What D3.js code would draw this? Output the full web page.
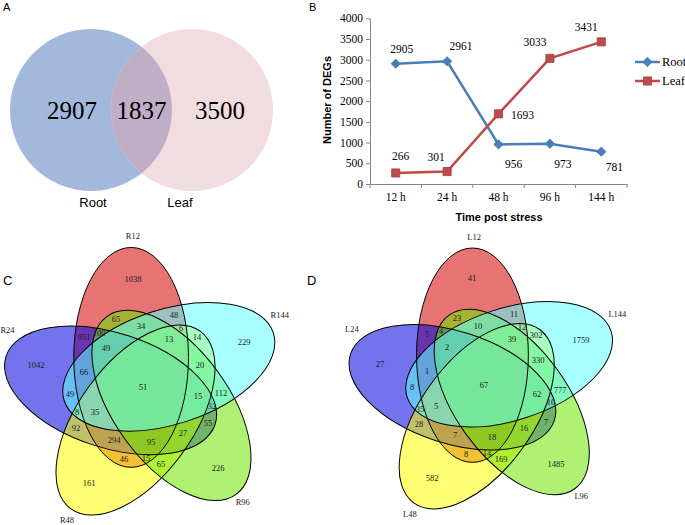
<!DOCTYPE html>
<html lang="en">
<head>
<meta charset="UTF-8">
<script src="https://cdn.jsdelivr.net/npm/d3@7"></script>
<style>
  body { margin: 0; background: #fff; }
  svg { display: block; }
</style>
</head>
<body>
<svg id="chart" width="685" height="525"></svg>
<script>
const serif = "'Liberation Serif', 'Times New Roman', serif";
const sans = "'Liberation Sans', Arial, sans-serif";

// ---- data ----
const tissues = ["Root", "Leaf"];
const tissueCounts = [2907, 1837, 3500]; // root only, shared, leaf only

const timePoints = ["12 h", "24 h", "48 h", "96 h", "144 h"];
const rootDEGs = [2905, 2961, 956, 973, 781];
const leafDEGs = [266, 301, 1693, 3033, 3431];
const degTicks = [0, 500, 1000, 1500, 2000, 2500, 3000, 3500, 4000];

const rootSets = ["R12", "R24", "R48", "R96", "R144"];
const leafSets = ["L12", "L24", "L48", "L96", "L144"];
// region codes: a..e = 1st..5th set (12, 24, 48, 96, 144 h)
const vennRegions = ["a", "b", "c", "d", "e",
  "ab", "ac", "ad", "ae", "bc", "bd", "be", "cd", "ce", "de",
  "abc", "abd", "abe", "acd", "ace", "ade", "bcd", "bce", "bde", "cde",
  "abcd", "abce", "abde", "acde", "bcde", "abcde"];
const rootCounts = [1038, 1042, 161, 226, 229,
  951, 46, 65, 48, 92, 55, 49, 65, 14, 112,
  294, 100, 66, 15, 6, 34, 27, 8, 32, 20,
  95, 35, 49, 13, 15, 51];
const leafCounts = [41, 27, 582, 1485, 1759,
  5, 8, 23, 11, 28, 7, 8, 169, 302, 777,
  7, 4, 1, 14, 12, 10, 16, 35, 10, 330,
  18, 5, 2, 39, 62, 67];

const svg = d3.select("#chart");

// ---- panel A ----
const gA = svg.append("g");
gA.append("text").attr("x", 3).attr("y", 11).attr("font-family", sans).attr("font-size", 11).text("A");
const rA = 81, sepA = 101, cxA = 91, cyA = 110;
const circA = [{x: cxA, fill: "#a3b9dc"}, {x: cxA + sepA, fill: "#f1dcdf"}];
gA.append("defs").append("clipPath").attr("id", "clipRoot")
  .append("circle").attr("cx", circA[0].x).attr("cy", cyA).attr("r", rA);
gA.selectAll("circle.set").data(circA).join("circle").attr("class", "set")
  .attr("cx", d => d.x).attr("cy", cyA).attr("r", rA).attr("fill", d => d.fill);
gA.append("circle").attr("cx", circA[1].x).attr("cy", cyA).attr("r", rA)
  .attr("clip-path", "url(#clipRoot)").attr("fill", "#bfaec6");
const numX = [circA[0].x - 19, (circA[0].x + circA[1].x) / 2, circA[1].x + 28];
gA.selectAll("text.num").data(tissueCounts).join("text").attr("class", "num")
  .attr("x", (d, i) => numX[i]).attr("y", cyA + 9)
  .attr("text-anchor", "middle").attr("font-family", serif).attr("font-size", 25).text(d => d);
gA.selectAll("text.lab").data(tissues).join("text").attr("class", "lab")
  .attr("x", (d, i) => circA[i].x + (i ? -12 : 2)).attr("y", 207)
  .attr("text-anchor", "middle").attr("font-family", sans).attr("font-size", 13).text(d => d);

// ---- panel B ----
const gB = svg.append("g");
gB.append("text").attr("x", 309).attr("y", 11).attr("font-family", sans).attr("font-size", 11).text("B");
const x = d3.scaleBand().domain(timePoints).range([370, 627]);
const y = d3.scaleLinear().domain([0, 4000]).range([184, 18.3]);
const axisCol = "#868686";

gB.append("g").attr("transform", "translate(370,0)")
  .call(d3.axisLeft(y).tickValues(degTicks).tickFormat(d3.format("d"))
    .tickSize(4).tickSizeOuter(0).tickPadding(3))
  .call(g => g.selectAll("line,path").attr("stroke", axisCol))
  .call(g => g.selectAll("text").attr("font-family", serif).attr("font-size", 11.5).attr("fill", "#000"));

gB.append("g").attr("transform", "translate(0,184)")
  .call(d3.axisBottom(x).tickSize(0).tickSizeOuter(0).tickPadding(9))
  .call(g => g.select("path").attr("stroke", axisCol))
  .call(g => g.selectAll("text").attr("font-family", serif).attr("font-size", 11.5).attr("fill", "#000"));
gB.selectAll("line.xt").data(timePoints.map(d => x(d)).concat(x.range()[1])).join("line")
  .attr("class", "xt").attr("x1", d => d).attr("x2", d => d).attr("y1", 184).attr("y2", 188)
  .attr("stroke", axisCol);

gB.append("text").attr("transform", "translate(331,100) rotate(-90)")
  .attr("text-anchor", "middle").attr("font-family", sans).attr("font-size", 11).attr("font-weight", "bold")
  .text("Number of DEGs");
gB.append("text").attr("x", 499).attr("y", 221)
  .attr("text-anchor", "middle").attr("font-family", sans).attr("font-size", 11).attr("font-weight", "bold")
  .text("Time post stress");

const series = [
  {name: "Root", values: rootDEGs, color: "#4a7ebb", stroke: "#4a7ebb", shape: "diamond",
   offsets: [[6, -15], [14, -15], [15, 20], [13, 20], [13, 15]]},
  {name: "Leaf", values: leafDEGs, color: "#be4b48", stroke: "#a33f3c", shape: "square",
   offsets: [[5, -17], [-11, -15], [24, 1], [-15, -16], [-15, -15]]}
];
const cxB = t => x(t) + x.bandwidth() / 2;
const line = d3.line().x((d, i) => cxB(timePoints[i])).y(d => y(d));
series.forEach((s, k) => {
  gB.append("path").datum(s.values).attr("d", line).attr("fill", "none")
    .attr("stroke", s.color).attr("stroke-width", 2.5);
  const sym = s.shape === "diamond"
    ? d3.symbol(d3.symbolSquare, 44) : d3.symbol(d3.symbolSquare, 66);
  const rot = s.shape === "diamond" ? " rotate(45)" : "";
  gB.selectAll(`path.m${k}`).data(s.values).join("path").attr("class", `m${k}`)
    .attr("d", sym())
    .attr("transform", (d, i) => `translate(${cxB(timePoints[i])},${y(d)})` + rot)
    .attr("fill", s.color).attr("stroke", s.stroke).attr("stroke-width", 0.8);
  gB.selectAll(`text.v${k}`).data(s.values).join("text").attr("class", `v${k}`)
    .attr("x", (d, i) => cxB(timePoints[i]) + s.offsets[i][0])
    .attr("y", (d, i) => y(d) + s.offsets[i][1]).attr("dy", "0.35em")
    .attr("text-anchor", "middle").attr("font-family", serif).attr("font-size", 11.5).text(d => d);
  // legend
  const ly = 62 + k * 19;
  gB.append("line").attr("x1", 635).attr("x2", 660).attr("y1", ly).attr("y2", ly)
    .attr("stroke", s.color).attr("stroke-width", 2.5);
  gB.append("path").attr("d", sym())
    .attr("transform", `translate(647.5,${ly})` + rot)
    .attr("fill", s.color).attr("stroke", s.stroke).attr("stroke-width", 0.8);
  gB.append("text").attr("x", 662).attr("y", ly).attr("dy", "0.35em")
    .attr("font-family", serif).attr("font-size", 12.5).text(s.name);
});

// ---- panels C, D: five-set ellipse Venn ----
const ellA = 0.24, ellB = 0.46, ellDist = 0.138;
const centerAngles = [112, 184, 256, 328, 40];
const rotOffset = -22;
const setColors = ["#d40000", "#0000e0", "#ffff00", "#6ee700", "#5fffff"];
const nameAngles = [94, 157, 240, 311, 28];
const nameRadius = [0.636, 0.618, 0.64, 0.633, 0.646];

function venn5(g, sets, counts, opt) {
  const {cx, cy, s} = opt;
  const ells = setColors.map((col, i) => {
    const ang = centerAngles[i] * Math.PI / 180;
    return {x: cx + ellDist * s * Math.cos(ang), y: cy - ellDist * s * Math.sin(ang),
      rot: centerAngles[i] + rotOffset, rx: ellB * s, ry: ellA * s, col};
  });
  const tf = d => `translate(${d.x},${d.y}) rotate(${-d.rot})`;
  g.selectAll("ellipse.f").data(ells).join("ellipse").attr("class", "f")
    .attr("rx", d => d.rx).attr("ry", d => d.ry).attr("transform", tf)
    .attr("fill", d => d.col).attr("fill-opacity", 0.55);
  g.selectAll("ellipse.o").data(ells).join("ellipse").attr("class", "o")
    .attr("rx", d => d.rx).attr("ry", d => d.ry).attr("transform", tf)
    .attr("fill", "none").attr("stroke", "#000").attr("stroke-width", 1);

  // rasterise the regions, then put each count at the point deepest inside its region
  const inside = (px, py, e) => {
    const t = e.rot * Math.PI / 180, dx = px - e.x, dy = e.y - py;
    const u = dx * Math.cos(t) + dy * Math.sin(t), v = -dx * Math.sin(t) + dy * Math.cos(t);
    return (u / e.rx) ** 2 + (v / e.ry) ** 2 <= 1;
  };
  const W = Math.ceil(1.3 * s), x0 = cx - W / 2, y0 = cy - W / 2;
  const mask = new Uint8Array(W * W);
  for (let j = 0; j < W; j++) for (let i = 0; i < W; i++) {
    let m = 0;
    ells.forEach((e, k) => { if (inside(x0 + i, y0 + j, e)) m |= 1 << k; });
    mask[j * W + i] = m;
  }
  const pts = d3.range(32).map(() => []), bnd = d3.range(32).map(() => []);
  for (let j = 1; j < W - 1; j++) for (let i = 1; i < W - 1; i++) {
    const k = j * W + i, m = mask[k];
    if (!m) continue;
    if (mask[k - 1] !== m || mask[k + 1] !== m || mask[k - W] !== m || mask[k + W] !== m) bnd[m].push(k);
    else pts[m].push(k);
  }
  const codeMask = code => [...code].reduce((m, c) => m | (1 << (c.charCodeAt(0) - 97)), 0);
  const labels = vennRegions.map((code, r) => {
    const m = codeMask(code);
    const cand = pts[m].length > 400 ? pts[m].filter((k, n) => n % 3 === 0) : pts[m];
    let best = -1, bk = -1;
    cand.forEach(k => {
      const pi = k % W, pj = (k - pi) / W;
      let dmin = Infinity;
      for (const b of bnd[m]) {
        const bi = b % W, d2 = (bi - pi) ** 2 + ((b - bi) / W - pj) ** 2;
        if (d2 < dmin) { dmin = d2; if (dmin <= best) break; }
      }
      if (dmin > best) { best = dmin; bk = k; }
    });
    if (bk < 0) bk = bnd[m][Math.floor(bnd[m].length / 2)];
    const i = bk % W;
    return {value: counts[r], x: x0 + i, y: y0 + (bk - i) / W};
  });
  g.selectAll("text.cnt").data(labels).join("text").attr("class", "cnt")
    .attr("x", d => d.x).attr("y", d => d.y).attr("dy", "0.35em")
    .attr("text-anchor", "middle").attr("font-family", serif).attr("font-size", 8.5).attr("fill", "#222")
    .text(d => d.value);
  g.selectAll("text.set").data(sets).join("text").attr("class", "set")
    .attr("x", (d, i) => cx + nameRadius[i] * s * Math.cos(nameAngles[i] * Math.PI / 180))
    .attr("y", (d, i) => cy - nameRadius[i] * s * Math.sin(nameAngles[i] * Math.PI / 180))
    .attr("dy", "0.35em").attr("text-anchor", "middle")
    .attr("font-family", serif).attr("font-size", 8.5).attr("fill", "#222").text(d => d);
}

const gC = svg.append("g");
gC.append("text").attr("x", 3).attr("y", 285).attr("font-family", sans).attr("font-size", 13).text("C");
venn5(gC, rootSets, rootCounts, {cx: 143.5, cy: 388, s: 239});
const gD = svg.append("g");
gD.append("text").attr("x", 307).attr("y", 285).attr("font-family", sans).attr("font-size", 13).text("D");
venn5(gD, leafSets, leafCounts, {cx: 484.5, cy: 385, s: 233});
</script>
</body>
</html>
